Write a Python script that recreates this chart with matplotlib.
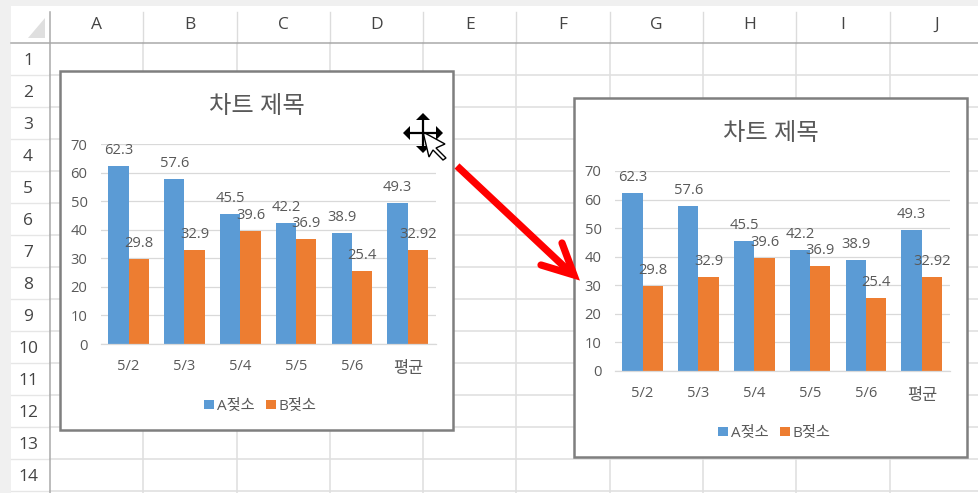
import numpy as np
import matplotlib
matplotlib.use('Agg')
import matplotlib.pyplot as plt
from matplotlib.patches import Polygon, Rectangle
from matplotlib.transforms import ScaledTranslation

plt.rcParams['font.family'] = ['Open Sans', 'Noto Sans CJK KR', 'DejaVu Sans']

W, H = 979, 493

categories = ['5/2', '5/3', '5/4', '5/5', '5/6', '평균']
series_a = [62.3, 57.6, 45.5, 42.2, 38.9, 49.3]
series_b = [29.8, 32.9, 39.6, 36.9, 25.4, 32.92]
label_a = [str(v) for v in series_a]
label_b = [str(v) for v in series_b]
y_ticks = [0, 10, 20, 30, 40, 50, 60, 70]

column_names = list('ABCDEFGHIJ')
row_names = [str(i) for i in range(1, 15)]

BLUE = '#5b9bd5'
ORANGE = '#ed7d31'
TEXT = '#595959'
GRID = '#d9d9d9'
SHEET = '#e0e0e0'
HEADER = '#444444'

fig = plt.figure(figsize=(W / 100, H / 100), dpi=100, facecolor='#f0f0f0')


def px_axes(left, top, right, bottom, **kw):
    return fig.add_axes([left / W, 1 - bottom / H, (right - left) / W, (bottom - top) / H], **kw)


# spreadsheet background, in pixel coordinates
sheet = px_axes(0, 0, W, H)
sheet.set_xlim(0, W)
sheet.set_ylim(H, 0)
sheet.axis('off')
sheet.add_patch(Rectangle((11, 6), W - 11, H - 6, fc='white', ec='none'))

col_x = 50 + 93.3 * np.arange(11)
row_y = 43 + 32 * np.arange(15)
for x in col_x[1:]:
    sheet.plot([x, x], [43, H], color=SHEET, lw=1.2)
    sheet.plot([x, x], [12, 43], color='#dcdcdc', lw=1.0)
for y in row_y[1:]:
    sheet.plot([50, W], [y, y], color=SHEET, lw=1.2)
    sheet.plot([11, 50], [y, y], color='#e6e6e6', lw=1.0)
sheet.plot([11, W], [43, 43], color='#a9a9a9', lw=1.1)
sheet.plot([50, 50], [12, H], color='#a9a9a9', lw=1.1)
sheet.add_patch(Polygon([(28, 38), (45, 38), (45, 18)], fc='#dfdfdf', ec='none'))

for name, x in zip(column_names, col_x[:-1]):
    sheet.text(x + 46.6, 25, name, ha='center', va='center', fontsize=12.5, color=HEADER)
for name, y in zip(row_names, row_y[:-1]):
    sheet.text(28, y + 18, name, ha='center', va='center', fontsize=12.5, color=HEADER)


def draw_chart(box_left, box_top):
    # chart frame, then plot area offset from it
    sheet.add_patch(Rectangle((box_left, box_top), 393.5, 358.5, fc='white', ec='#7f7f7f', lw=1.8, zorder=3))
    ax = px_axes(box_left + 40.7, box_top + 73, box_left + 375.7, box_top + 273)
    ax.patch.set_alpha(0)
    ax.set_zorder(2)

    x = np.arange(len(categories))
    width = 0.365
    bars_a = ax.bar(x - width / 2, series_a, width, color=BLUE, label='A젖소', zorder=2)
    bars_b = ax.bar(x + width / 2, series_b, width, color=ORANGE, label='B젖소', zorder=2)

    ax.set_xlim(-0.5, len(categories) - 0.5)
    ax.set_ylim(0, 70)
    ax.set_yticks(y_ticks)
    ax.set_xticks(x)
    ax.set_xticklabels(categories)
    ax.grid(axis='y', color=GRID, lw=0.9, zorder=0)
    ax.set_axisbelow(True)
    for s in ['top', 'right', 'left']:
        ax.spines[s].set_visible(False)
    ax.spines['bottom'].set_color(GRID)
    ax.spines['bottom'].set_linewidth(0.9)
    ax.tick_params(axis='x', length=0, pad=10.5, labelsize=10.6, labelcolor=TEXT)
    ax.tick_params(axis='y', length=0, pad=9.5, labelsize=10.6, labelcolor=TEXT)

    # the Korean category sits a little lower and larger than the dates
    avg_label = ax.get_xticklabels()[-1]
    avg_label.set_fontsize(11.8)
    avg_label.set_transform(avg_label.get_transform() + ScaledTranslation(0, -2 / 72, fig.dpi_scale_trans))

    for bars, labels in ((bars_a, label_a), (bars_b, label_b)):
        for bar, text in zip(bars, labels):
            ax.annotate(text, (bar.get_x() + bar.get_width() / 2, bar.get_height()),
                        xytext=(0, 15.5), textcoords='offset pixels',
                        ha='center', va='center', fontsize=10.6, color=TEXT, zorder=4)

    ax.text((box_left + 197) / W, 1 - (box_top + 36) / H, '차트 제목', transform=fig.transFigure,
            ha='center', va='center', fontsize=17.5, color=TEXT)
    ax.legend(loc='center', bbox_to_anchor=((box_left + 200.5) / W, 1 - (box_top + 335.5) / H),
              bbox_transform=fig.transFigure, ncol=2, frameon=False, fontsize=11,
              labelcolor=TEXT, handlelength=0.6, handleheight=0.6, handletextpad=0.2,
              columnspacing=0.8, borderpad=0, borderaxespad=0)


draw_chart(60, 71)
draw_chart(574, 98)

# move arrow between the two charts and the mouse cursor on top
top = px_axes(0, 0, W, H)
top.set_xlim(0, W)
top.set_ylim(H, 0)
top.axis('off')
top.patch.set_alpha(0)
top.set_zorder(5)

top.plot([457, 572], [166, 274], color='#ff0000', lw=5.2, solid_capstyle='butt')
top.plot([541, 574, 562], [265, 275, 243], color='#ff0000', lw=5.2,
         solid_capstyle='round', solid_joinstyle='miter')

cx, cy = 423, 133
top.plot([cx - 16, cx + 16], [cy, cy], color='black', lw=1.6)
top.plot([cx, cx], [cy - 16, cy + 16], color='black', lw=1.6)
for pts in ([(cx - 20, cy), (cx - 13, cy - 7), (cx - 13, cy + 7)],
            [(cx + 20, cy), (cx + 13, cy - 7), (cx + 13, cy + 7)],
            [(cx, cy - 20), (cx - 7, cy - 13), (cx + 7, cy - 13)],
            [(cx, cy + 20), (cx - 7, cy + 13), (cx + 7, cy + 13)]):
    top.add_patch(Polygon(pts, fc='black', ec='none'))
top.add_patch(Polygon([(423, 132), (445, 144), (436, 148), (446, 158), (443, 160), (433, 150), (429, 157)],
                      fc='white', ec='black', lw=1.0))

fig.savefig('out.png', dpi=100, facecolor=fig.get_facecolor())
